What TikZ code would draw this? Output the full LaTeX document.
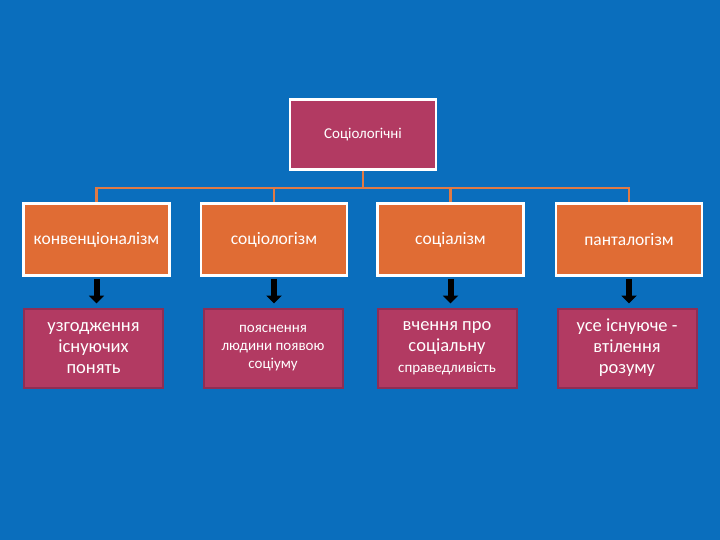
\documentclass[tikz,border=0pt]{standalone}
\usepackage{fontspec}
\setmainfont{Carlito}
\usetikzlibrary{arrows.meta}
\definecolor{bg}{HTML}{0A6EBD}
\definecolor{mag}{HTML}{B23A62}
\definecolor{mag2}{HTML}{8E2E55}
\definecolor{org}{HTML}{E06C34}
\definecolor{ln}{HTML}{E07A44}
\tikzset{
 topbox/.style={draw=white,line width=2.5pt,fill=mag,text=white,minimum width=146pt,minimum height=70pt,inner sep=2pt,font=\fontsize{15}{17}\selectfont},
 midbox/.style={draw=white,line width=2.5pt,fill=org,text=white,minimum width=146pt,minimum height=72pt,inner sep=1pt,font=\fontsize{17.5}{19}\selectfont},
 botbox/.style={draw=mag2,line width=2pt,fill=mag,text=white,minimum width=139pt,minimum height=79pt,align=center,inner sep=2pt},
 conn/.style={draw=ln,line width=2.5pt},
 arr/.style={-{Triangle[length=8pt,width=15pt]},line width=6pt,black}
}
\begin{document}
\begin{tikzpicture}[x=1pt,y=-1pt]
\fill[bg] (0,0) rectangle (720,540);
\node[topbox] (t) at (363,134.5) {Соціологічні};
\node[midbox] (m1) at (96.5,239.5) {конвенціоналізм};
\node[midbox] (m2) at (274,239.5) {соціологізм};
\node[midbox] (m3) at (450.5,239.5) {соціалізм};
\node[midbox] (m4) at (629,239.5) {панталогізм};
\node[botbox,font=\fontsize{18.5}{21}\selectfont] (b1) at (93.5,348) {узгодження\\існуючих\\понять};
\node[botbox,font=\fontsize{15}{18}\selectfont] (b2) at (273,348) {пояснення\\людини появою\\соціуму};
\node[botbox,font=\fontsize{18.5}{21}\selectfont] (b3) at (447,348) {вчення про\\соціальну\\\fontsize{15}{17}\selectfont справедливість};
\node[botbox,font=\fontsize{18.5}{21}\selectfont] (b4) at (627,348) {усе існуюче -\\втілення\\розуму};
\coordinate (h) at (363,188);
\draw[conn] (t.south) -- (h);
\foreach \m in {m1,m2,m3,m4}{
 \draw[conn] (h) -| (\m.north);
 }
\foreach \m/\b in {m1/b1,m2/b2,m3/b3,m4/b4}{
 \draw[arr] ([yshift=-2pt]\m.south) -- ([yshift=4pt]\m.south |- \b.north);
}
\end{tikzpicture}
\end{document}
